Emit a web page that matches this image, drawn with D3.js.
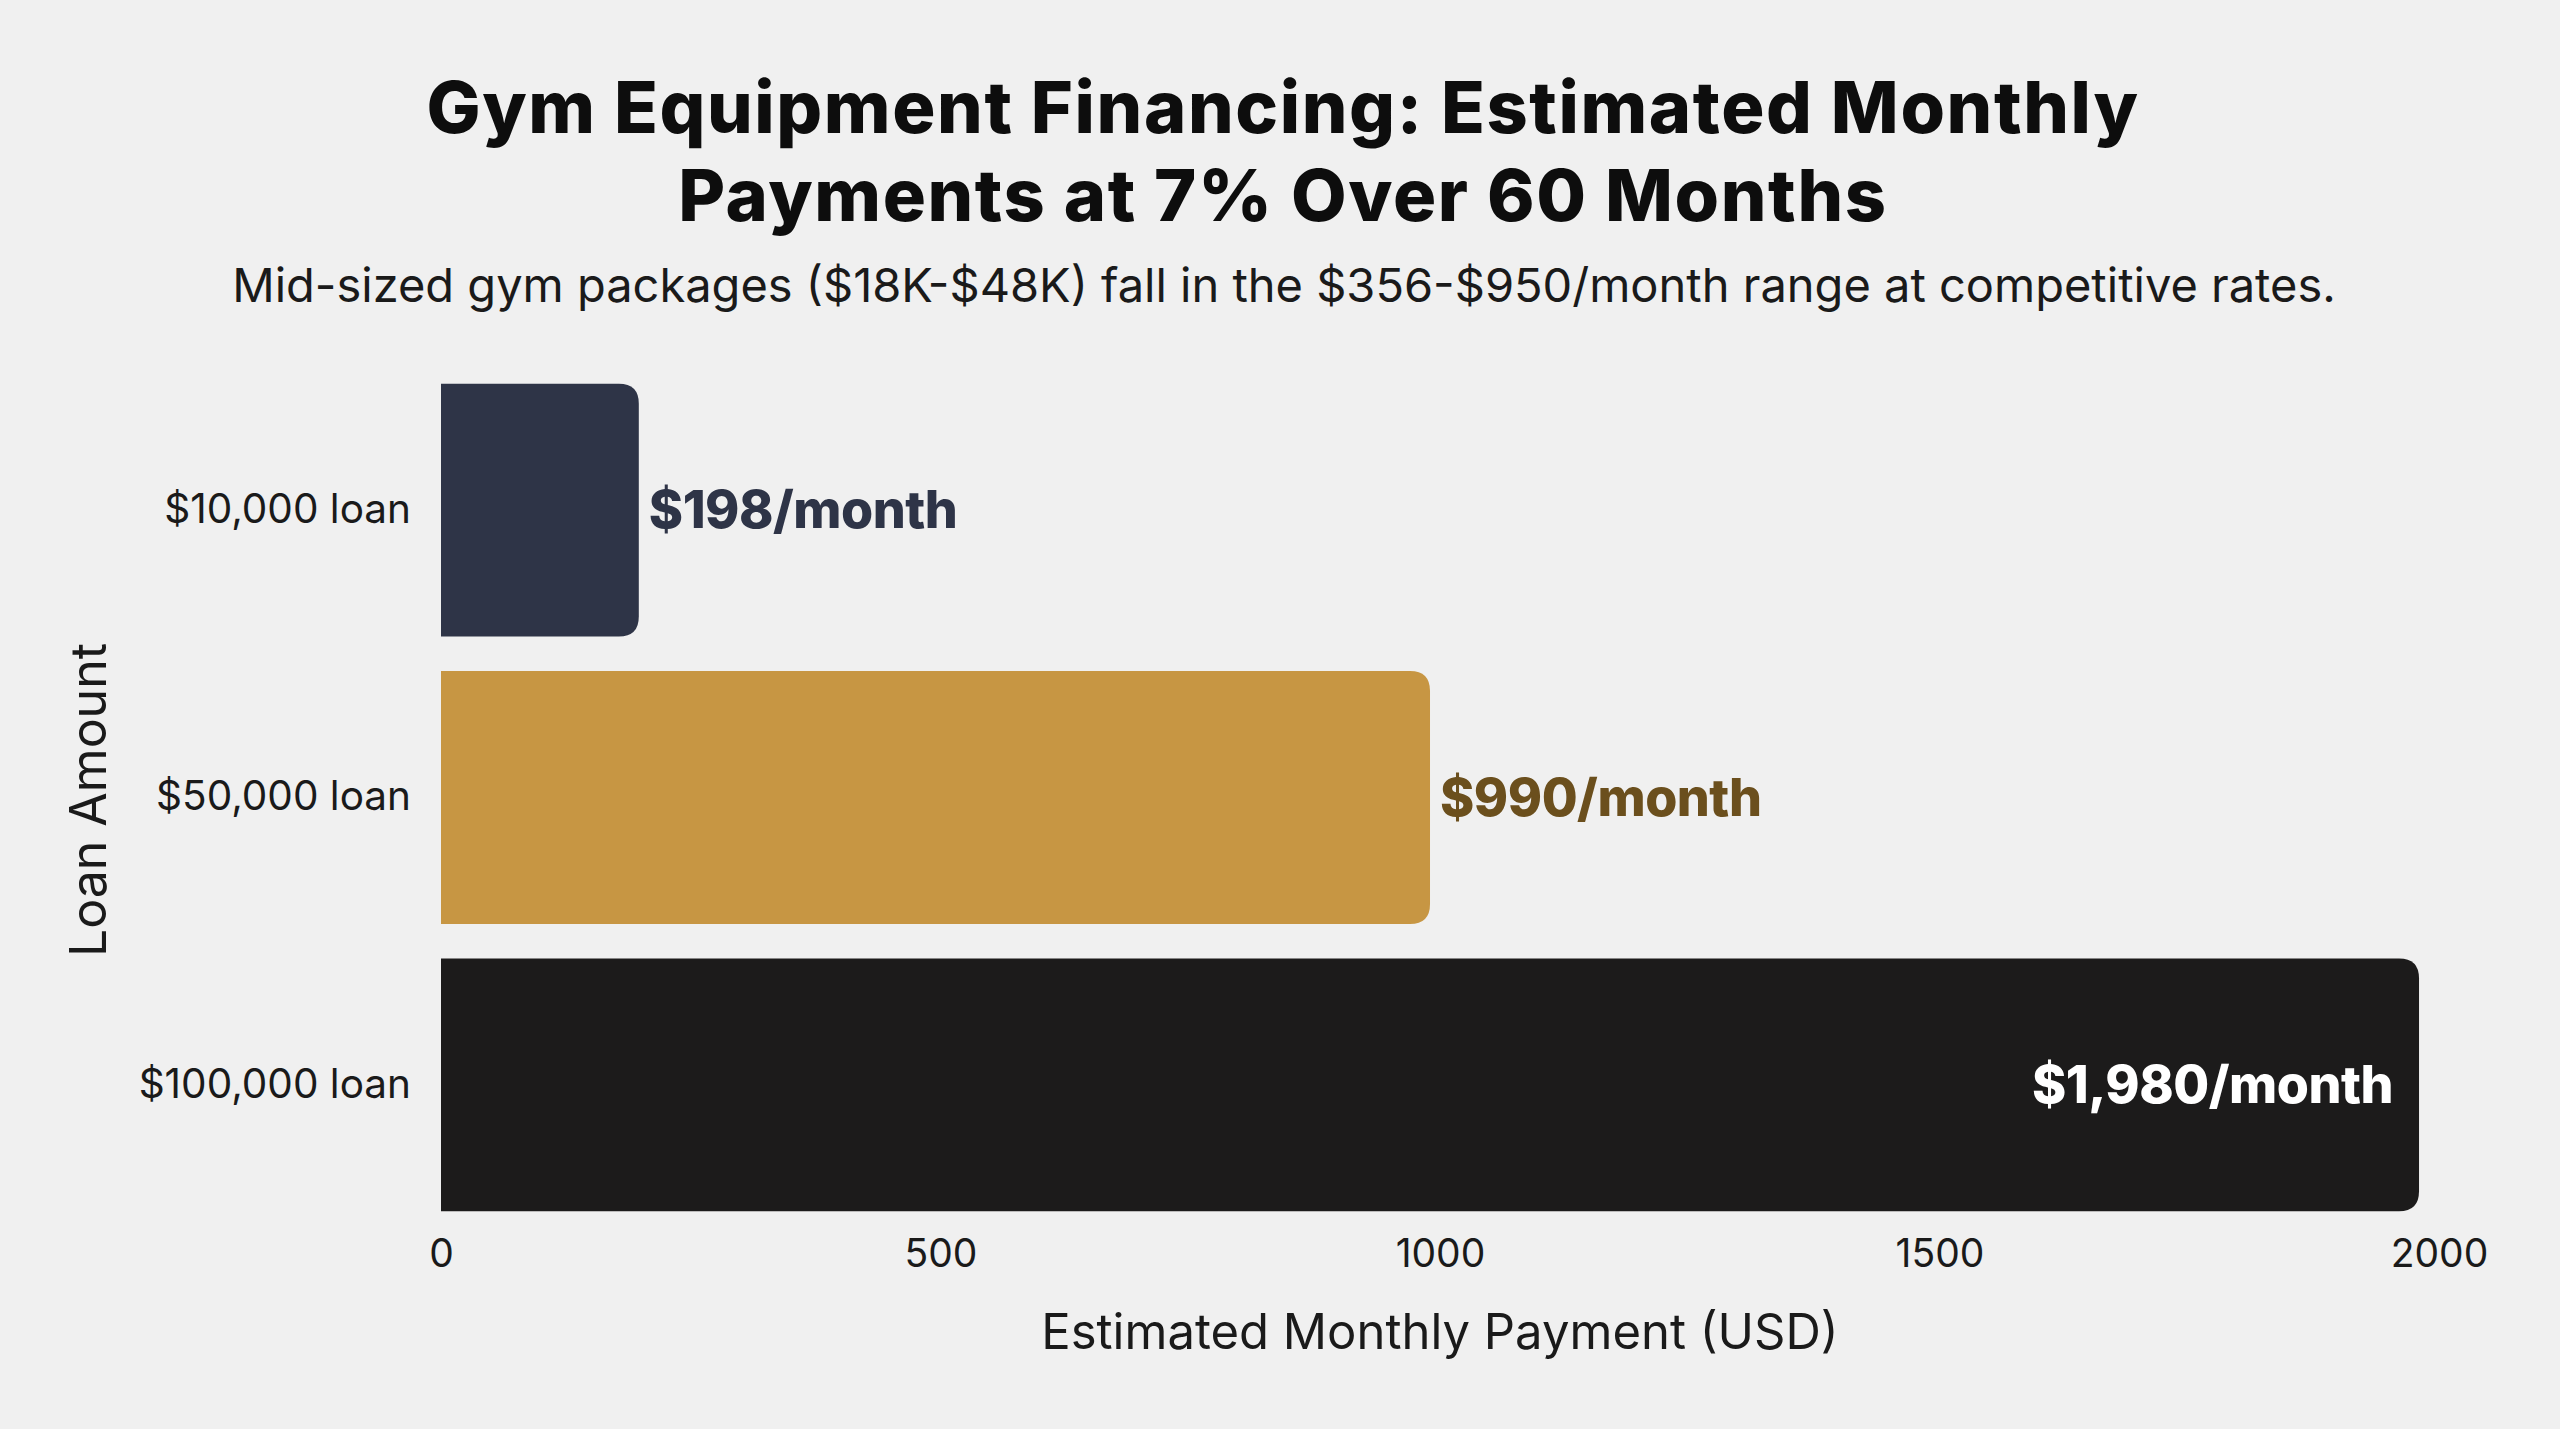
<!DOCTYPE html>
<html>
<head>
<meta charset="utf-8">
<script src="https://cdn.jsdelivr.net/npm/d3@7"></script>
<style>
  html, body { margin: 0; padding: 0; background: #f0f0f0; }
  svg { display: block; }
  text { font-family: Inter, "Noto Sans", sans-serif; }
</style>
</head>
<body>
<script>
const categories = ["$10,000 loan", "$50,000 loan", "$100,000 loan"];
const payments = [198, 990, 1980];
const valueLabels = ["$198/month", "$990/month", "$1,980/month"];
const barColors = ["#2e3447", "#c79643", "#1c1b1b"];
const labelColors = ["#2e3447", "#6b4f1d", "#ffffff"];
const xTicks = [0, 500, 1000, 1500, 2000];
const titleLines = ["Gym Equipment Financing: Estimated Monthly", "Payments at 7% Over 60 Months"];
const subtitle = "Mid-sized gym packages ($18K-$48K) fall in the $356-$950/month range at competitive rates.";
const xTitle = "Estimated Monthly Payment (USD)";
const yTitle = "Loan Amount";

const W = 2560, H = 1429;
const margin = { left: 441, right: 121, top: 387, bottom: 221 };

const svg = d3.select("body").append("svg").attr("width", W).attr("height", H);
svg.append("rect").attr("width", W).attr("height", H).attr("fill", "#f0f0f0");

const x = d3.scaleLinear().domain([0, 2000]).range([margin.left, W - margin.right]);
const y = d3.scaleBand().domain(categories).range([margin.top - 22, H - margin.bottom + 22]).paddingInner(0.12).paddingOuter(0.065);

// Title (two separate lines)
titleLines.forEach((t, i) => {
  svg.append("text").attr("text-anchor", "middle").attr("font-weight", 800)
    .attr("font-size", 72).attr("fill", "#0d0d0d").attr("letter-spacing", 1.6)
    .attr("x", W / 2 + 3).attr("y", 133 + i * 88).text(t);
});

svg.append("text").attr("x", W / 2 + 4).attr("y", 302).attr("text-anchor", "middle")
  .attr("font-size", 47).attr("fill", "#1a1a1a").text(subtitle);

// Bars with right-rounded corners
const r = 20;
function barPath(d, i) {
  const x0 = x(0), x1 = x(d), y0 = y(categories[i]), h = y.bandwidth();
  const rr = Math.min(r, (x1 - x0) / 2);
  return `M${x0},${y0}H${x1 - rr}Q${x1},${y0} ${x1},${y0 + rr}V${y0 + h - rr}Q${x1},${y0 + h} ${x1 - rr},${y0 + h}H${x0}Z`;
}
svg.append("g").selectAll("path").data(payments).join("path")
  .attr("d", barPath).attr("fill", (d, i) => barColors[i]);

// Value labels
svg.append("g").selectAll("text").data(payments).join("text")
  .attr("x", (d, i) => i === 2 ? x(d) - 26 : x(d) + 10)
  .attr("y", (d, i) => y(categories[i]) + y.bandwidth() / 2)
  .attr("dy", "0.35em")
  .attr("text-anchor", (d, i) => i === 2 ? "end" : "start")
  .attr("font-size", 52).attr("font-weight", 800).attr("letter-spacing", -0.5)
  .attr("fill", (d, i) => labelColors[i])
  .text((d, i) => valueLabels[i]);

// Y axis (category labels)
const yAxis = d3.axisLeft(y).tickSize(0).tickPadding(30);
const gy = svg.append("g").attr("transform", `translate(${margin.left},0)`).call(yAxis);
gy.select(".domain").remove();
gy.selectAll("text").attr("font-size", 40.5).attr("fill", "#1a1a1a").attr("font-family", "Inter, sans-serif");

// X axis
const xAxis = d3.axisBottom(x).tickValues(xTicks).tickSize(0).tickPadding(31).tickFormat(d3.format("d"));
const gx = svg.append("g").attr("transform", `translate(0,${H - margin.bottom})`).call(xAxis);
gx.select(".domain").remove();
gx.selectAll("text").attr("font-size", 39).attr("fill", "#1a1a1a").attr("font-family", "Inter, sans-serif");

// Axis titles
svg.append("text").attr("x", x(1000)).attr("y", 1349).attr("text-anchor", "middle")
  .attr("font-size", 49).attr("fill", "#1a1a1a").text(xTitle);

svg.append("text").attr("transform", `translate(106,800) rotate(-90)`).attr("text-anchor", "middle")
  .attr("font-size", 50).attr("fill", "#1a1a1a").text(yTitle);
</script>
</body>
</html>
